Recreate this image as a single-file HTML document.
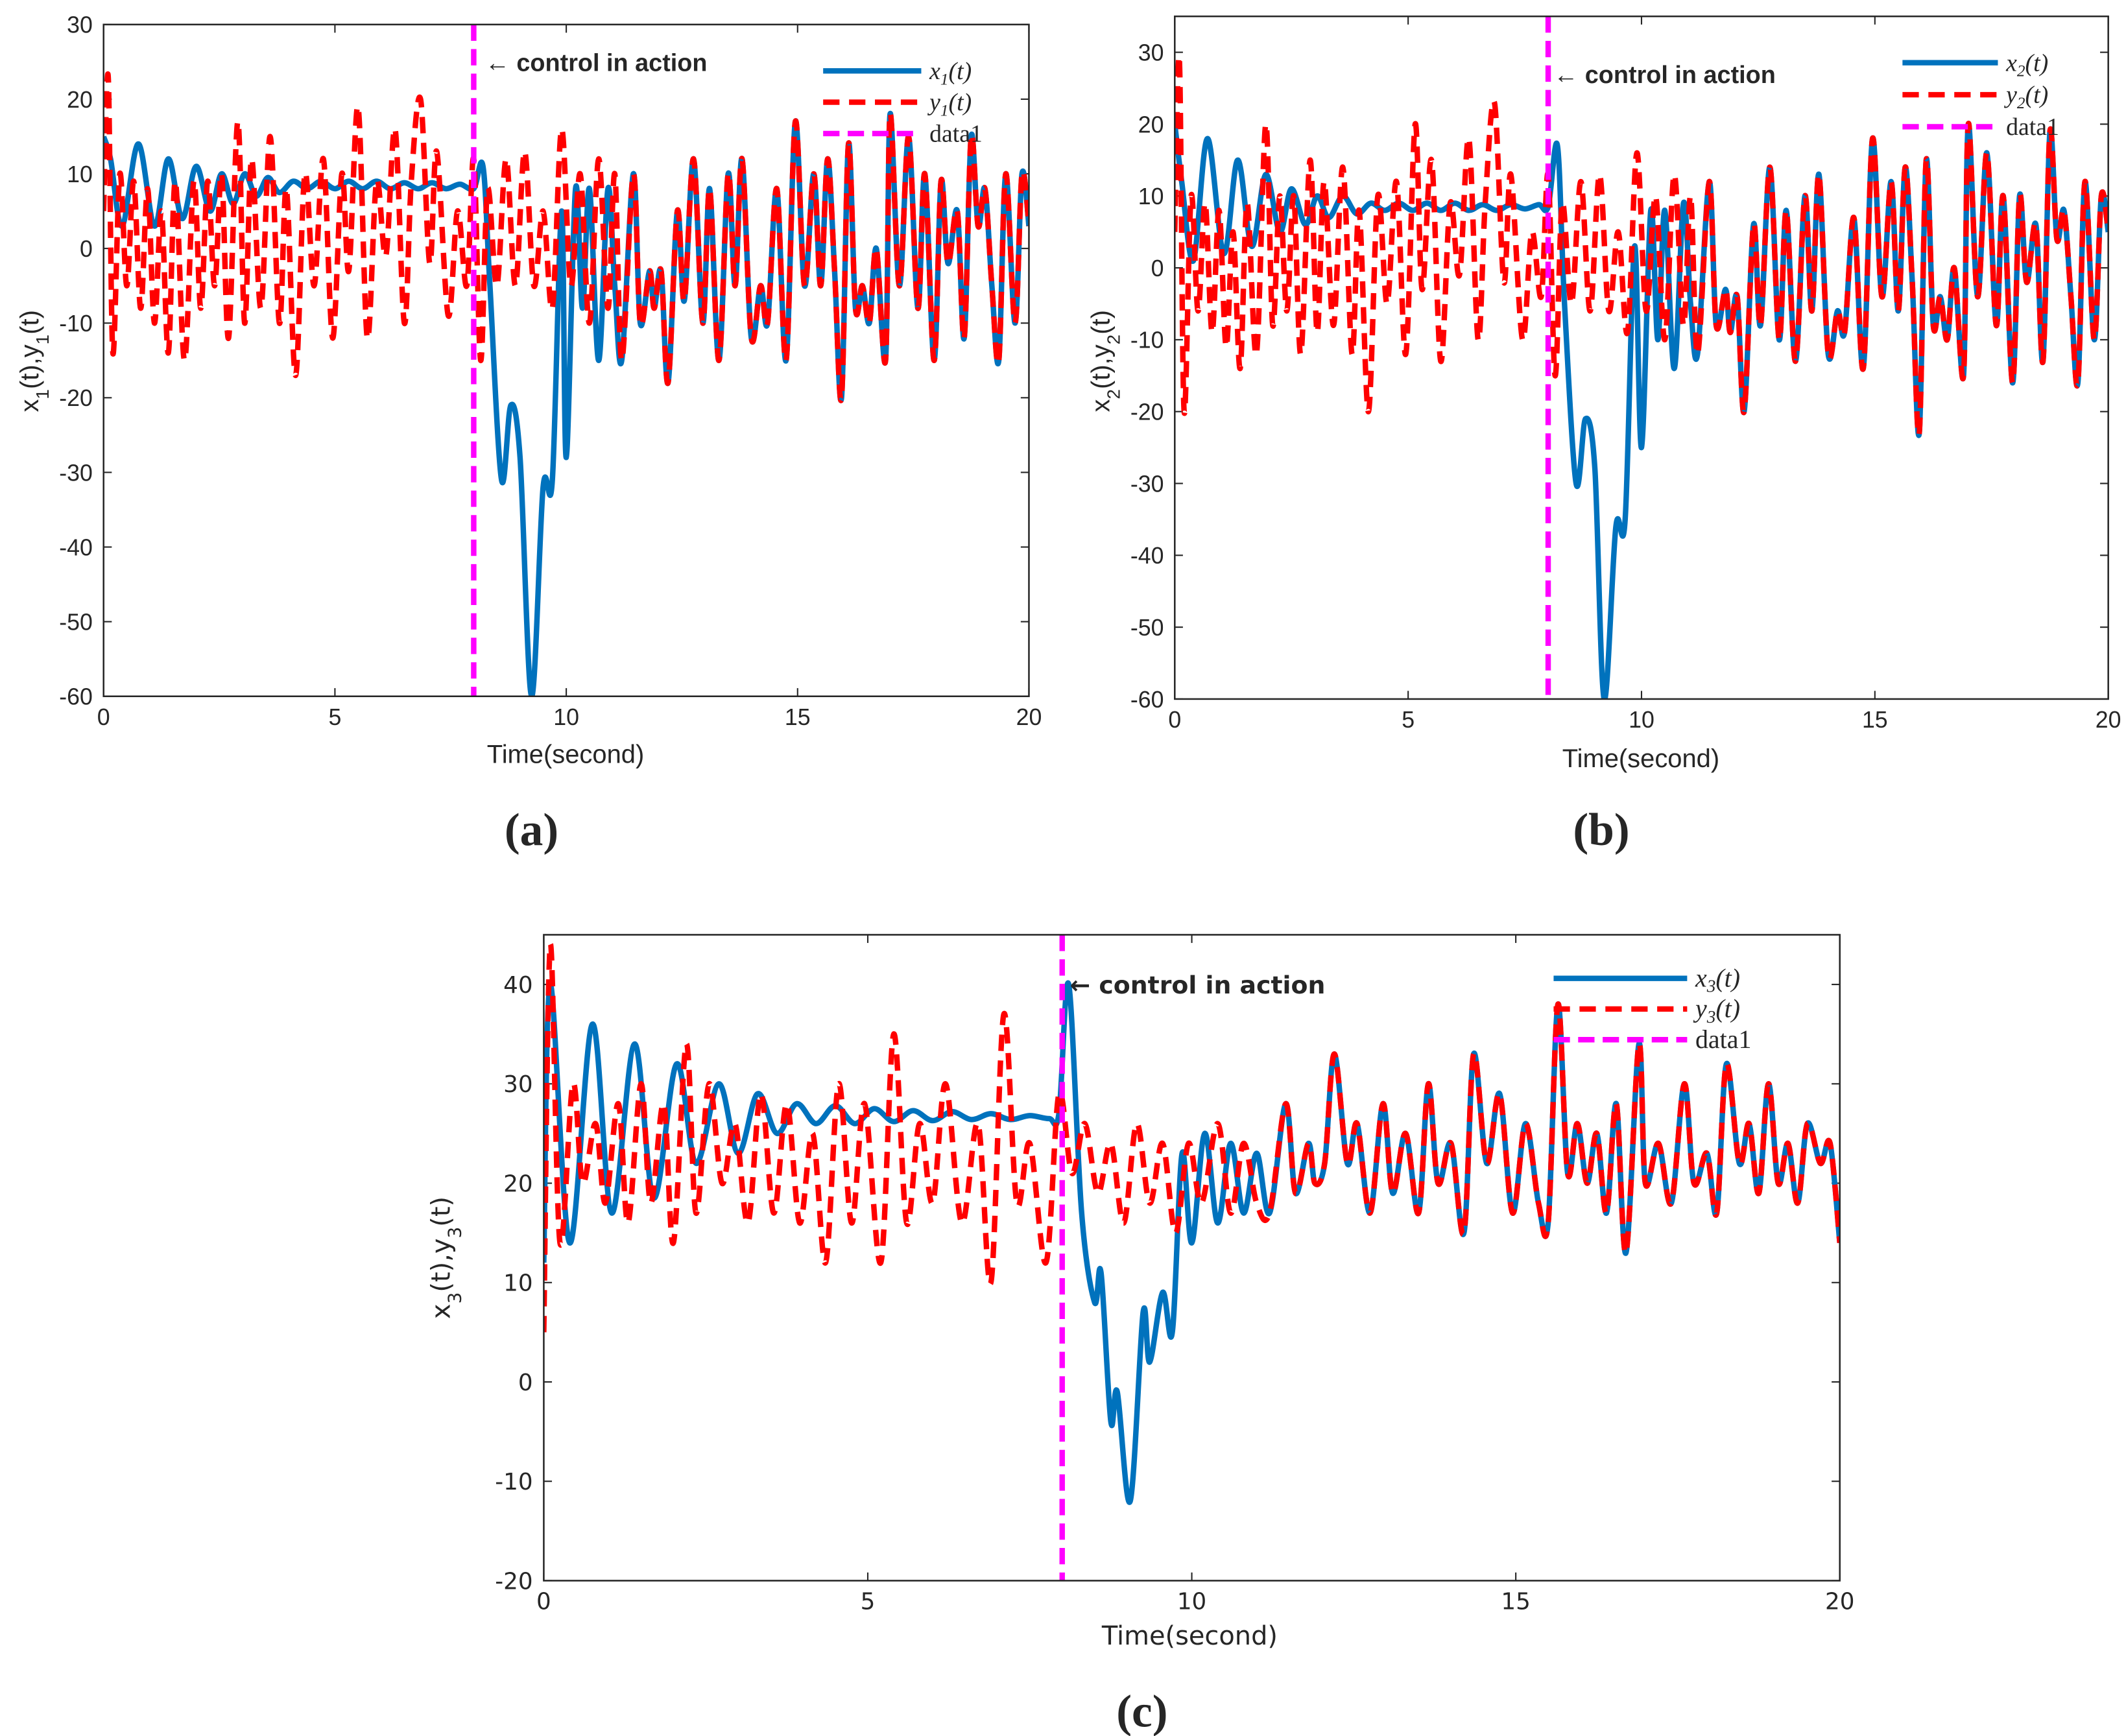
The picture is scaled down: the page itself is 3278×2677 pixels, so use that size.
<!DOCTYPE html>
<html><head><meta charset="utf-8"><style>
html,body{margin:0;padding:0;background:#fff}
svg{display:block}
text{font-family:"Liberation Sans",sans-serif;fill:#262626}
</style></head><body>
<svg id="fig" width="3278" height="2677" viewBox="0 0 1560 1274" xmlns="http://www.w3.org/2000/svg"></svg>
<script>
// ---- data: panel a ----
const xTicks=[0,5,10,15,20];
const aYTicks=[-60,-50,-40,-30,-20,-10,0,10,20,30];
const bYTicks=[-60,-50,-40,-30,-20,-10,0,10,20,30];
const cYTicks=[-20,-10,0,10,20,30,40];
const syncT=[11.2,11.45,11.6,11.8,11.9,12.05,12.2,12.4,12.55,12.75,12.95,13.1,13.3,13.5,13.65,13.8,14.0,14.2,14.35,14.55,14.75,14.95,15.15,15.35,15.5,15.65,15.8,15.95,16.1,16.25,16.4,16.55,16.7,16.9,17.0,17.2,17.4,17.6,17.75,17.95,18.1,18.25,18.45,18.6,18.75,18.9,19.05,19.2,19.35,19.5,19.7,19.85,20];
const syncA=[-15,10,-10,-3,-8,-3,-18,5,-7,12,-10,8,-15,10,-5,12,-12,-5,-10,8,-15,17,-5,10,-5,12,-3,-20,14,-8,-5,-10,0,-15,18,-5,15,-8,10,-15,9,-2,5,-12,15,3,8,-5,-15,10,-10,10,3];
const syncB=[-12,12,-8,-3,-9,-4,-20,6,-8,14,-10,8,-13,10,-6,13,-12,-6,-9,7,-14,18,-4,12,-6,14,-2,-23,15,-8,-4,-10,0,-15,20,-4,16,-8,10,-16,10,-2,6,-13,19,4,8,-4,-16,12,-10,10,5];
const syncC=[17,28,19,24,20,22,33,22,26,17,28,19,25,17,30,20,24,15,33,22,29,17,26,18,16,38,21,26,20,25,17,28,13,34,20,24,18,30,20,23,17,32,22,26,19,30,20,24,18,26,22,24,14];
const aXT=[0,0.15,0.4,0.75,1.1,1.4,1.7,2.0,2.3,2.55,2.8,3.05,3.3,3.55,3.8,4.1,4.4,4.7,5.0,5.3,5.6,5.9,6.2,6.5,6.8,7.1,7.4,7.7,8.0,8.2,8.35,8.6,8.8,9.0,9.25,9.5,9.7,9.9,10.0,10.2,10.35,10.5,10.7,10.9,11.05];
const aXV=[15,12,3,14,3,12,4,11,5,10,6,10,7,9.5,7.5,9,8,9,8,9,8,9,8,8.8,8,8.8,8,8.6,8,11,-5,-31,-21,-28,-60,-32,-31,5,-28,8,-8,8,-15,8,-5];
const aYT=[0,0.1,0.2,0.35,0.5,0.65,0.8,0.95,1.1,1.25,1.4,1.55,1.75,1.95,2.1,2.25,2.4,2.55,2.7,2.9,3.05,3.2,3.4,3.6,3.8,3.95,4.15,4.35,4.55,4.75,4.95,5.15,5.3,5.5,5.7,5.9,6.1,6.3,6.5,6.65,6.85,7.05,7.2,7.45,7.65,7.85,8.0,8.15,8.3,8.5,8.7,8.9,9.1,9.3,9.5,9.7,9.9,10.1,10.3,10.5,10.7,10.9,11.05];
const aYV=[5,23,-14,10,-5,9,-8,8,-10,5,-14,9,-15,9,-8,9,-5,10,-12,17,-10,12,-8,15,-10,8,-17,10,-5,12,-12,10,-3,19,-12,9,-1,16,-10,9,20,-2,13,-9,5,-5,12,-15,8,-5,12,-5,13,-5,5,-8,16,-5,10,-10,12,-8,10];
// ---- data: panel b ----
const bXT=[0,0.15,0.4,0.7,1.05,1.35,1.65,1.95,2.25,2.5,2.8,3.05,3.3,3.6,3.9,4.2,4.5,4.8,5.1,5.4,5.7,6.0,6.3,6.6,6.9,7.2,7.5,7.8,8.0,8.2,8.35,8.6,8.8,9.0,9.2,9.45,9.65,9.85,10.0,10.2,10.35,10.5,10.7,10.9,11.05];
const bXV=[20,12,1,18,2,15,3,13,5,11,6,10,7,10,7.5,9,8,9,8,9,8,9,8,8.8,8,8.8,8.2,8.8,8.5,17,-5,-30,-21,-28,-60,-36,-35,3,-25,8,-10,8,-14,9,-5];
const bYT=[0,0.1,0.2,0.35,0.5,0.65,0.8,0.95,1.1,1.25,1.4,1.55,1.75,1.95,2.1,2.25,2.4,2.55,2.7,2.9,3.05,3.2,3.4,3.6,3.8,3.95,4.15,4.35,4.55,4.75,4.95,5.15,5.3,5.5,5.7,5.9,6.1,6.3,6.5,6.65,6.85,7.05,7.2,7.45,7.65,7.85,8.0,8.15,8.3,8.5,8.7,8.9,9.1,9.3,9.5,9.7,9.9,10.1,10.3,10.5,10.7,10.9,11.05];
const bYV=[5,29,-20,10,-6,9,-9,8,-11,5,-14,9,-12,20,-8,10,-6,10,-12,15,-9,12,-8,14,-12,8,-20,10,-5,12,-12,20,-3,15,-13,9,-1,18,-10,9,23,-2,13,-10,5,-4,13,-15,9,-5,12,-6,13,-6,5,-9,16,-6,10,-10,13,-8,10];
// ---- data: panel c ----
const cXT=[0,0.1,0.4,0.75,1.05,1.4,1.7,2.05,2.35,2.7,3.0,3.3,3.6,3.9,4.2,4.5,4.8,5.1,5.4,5.7,6.0,6.3,6.6,6.9,7.2,7.5,7.8,7.95,8.1,8.3,8.5,8.6,8.75,8.85,9.05,9.25,9.35,9.55,9.7,9.85,10.0,10.2,10.4,10.6,10.8,11.0];
const cXV=[12,40,14,36,17,34,18.5,32,22,30,23,29,25,28,26,27.8,26,27.5,26.2,27.3,26.3,27.2,26.4,27,26.4,26.8,26.5,27,40,17,8,11,-4,-1,-12,7,2,9,5,23,14,25,16,24,17,23];
const cYT=[0,0.1,0.25,0.45,0.6,0.8,0.95,1.15,1.3,1.5,1.65,1.85,2.0,2.2,2.35,2.55,2.75,2.95,3.15,3.35,3.55,3.75,3.95,4.15,4.35,4.55,4.75,4.95,5.2,5.4,5.6,5.8,6.0,6.2,6.45,6.7,6.9,7.1,7.3,7.5,7.75,7.95,8.15,8.35,8.55,8.75,8.95,9.15,9.35,9.55,9.75,9.95,10.15,10.4,10.6,10.8,11.0];
const cYV=[5,44,14,30,20,26,18,28,16,30,18,28,14,34,17,30,20,26,16,29,17,28,16,25,12,30,16,28,12,35,16,26,18,30,16,26,10,37,18,24,12,29,21,26,19,24,16,26,18,24,15,24,18,26,17,24,18];

const svg=document.getElementById('fig');
const NS='http://www.w3.org/2000/svg';
function el(tag,attrs,parent,text){const e=document.createElementNS(NS,tag);for(const k in attrs)e.setAttribute(k,attrs[k]);if(text!==undefined)e.textContent=text;(parent||svg).appendChild(e);return e;}
function smooth(pts){let d='M'+pts[0][0].toFixed(1)+','+pts[0][1].toFixed(1);for(let i=0;i<pts.length-1;i++){const p0=pts[Math.max(0,i-1)],p1=pts[i],p2=pts[i+1],p3=pts[Math.min(pts.length-1,i+2)];const c1=[p1[0]+(p2[0]-p0[0])/6,p1[1]+(p2[1]-p0[1])/6],c2=[p2[0]-(p3[0]-p1[0])/6,p2[1]-(p3[1]-p1[1])/6];d+='C'+c1[0].toFixed(1)+','+c1[1].toFixed(1)+' '+c2[0].toFixed(1)+','+c2[1].toFixed(1)+' '+p2[0].toFixed(1)+','+p2[1].toFixed(1);}return d;}

function panel(cfg){
  const g=el('g',{});
  
  
  const X=t=>cfg.x0+(t-0)/20*(cfg.x1-cfg.x0);
  const Y=v=>cfg.y1-(v-cfg.ymin)/(cfg.ymax-cfg.ymin)*(cfg.y1-cfg.y0);
  const cid='clip-'+cfg.name;
  const cp=el('clipPath',{id:cid},g);el('rect',{x:cfg.x0,y:cfg.y0,width:cfg.x1-cfg.x0,height:cfg.y1-cfg.y0},cp);
  const fs=cfg.fs, ff=cfg.font;
  xTicks.forEach(t=>{
    const tk=el('line',{x1:X(t),x2:X(t),y1:cfg.y1,y2:cfg.y1-6,stroke:'#262626','stroke-width':1},g);
    
    el('line',{x1:X(t),x2:X(t),y1:cfg.y0,y2:cfg.y0+6,stroke:'#262626','stroke-width':1},g);
    const tl=el('text',{x:X(t),y:cfg.y1+fs+4,'text-anchor':'middle','font-size':fs,style:'font-family:'+ff},g,String(t));
    
  });
  cfg.yt.forEach(v=>{
    el('line',{x1:cfg.x0,x2:cfg.x0+6,y1:Y(v),y2:Y(v),stroke:'#262626','stroke-width':1},g);
    el('line',{x1:cfg.x1,x2:cfg.x1-6,y1:Y(v),y2:Y(v),stroke:'#262626','stroke-width':1},g);
    const tl=el('text',{x:cfg.x0-8,y:Y(v)+fs*0.36,'text-anchor':'end','font-size':fs,style:'font-family:'+ff},g,String(v));
    
  });
  const cl=el('g',{'clip-path':'url(#'+cid+')'},g);
  const yp=cfg.yT.map((t,i)=>[X(t),Y(cfg.yV[i])]).concat(syncT.map((t,i)=>[X(t),Y(cfg.sync[i])]));
  const xp=cfg.xT.map((t,i)=>[X(t),Y(cfg.xV[i])]).concat(syncT.map((t,i)=>[X(t),Y(cfg.sync[i])]));
  const xl=el('path',{d:smooth(xp),fill:'none',stroke:'#0072BD','stroke-width':4,'stroke-linejoin':'round'},cl);
  
  const yl=el('path',{d:smooth(yp),fill:'none',stroke:'#FF0000','stroke-width':4,'stroke-dasharray':'12,7'},cl);
  
  const vl=el('line',{x1:X(8),x2:X(8),y1:cfg.y0,y2:cfg.y1,stroke:'#FF00FF','stroke-width':4,'stroke-dasharray':'12,6'},g);
  
  const box=el('rect',{x:cfg.x0,y:cfg.y0,width:cfg.x1-cfg.x0,height:cfg.y1-cfg.y0,fill:'none',stroke:'#262626','stroke-width':1.2},g);
  
  const an=el('text',{x:cfg.ann[0],y:cfg.ann[1],'font-size':cfg.annFs,'font-weight':'bold',style:'font-family:'+ff,fill:'#000'},g,'\u2190 control in action');
  
  const L=cfg.leg, cols=['#0072BD','#FF0000','#FF00FF'], dash=['none','12,7','12,6'];
  cfg.legLabels.forEach((lab,i)=>{
    const y=L.y+i*L.dy;
    const ll=el('line',{x1:L.x,x2:L.x+L.w,y1:y,y2:y,stroke:cols[i],'stroke-width':4,'stroke-dasharray':dash[i]},g);
    
    const t=el('text',{x:L.x+L.w+6,y:y+6,'font-size':L.fs,'font-style':i<2?'italic':'normal',style:'font-family:"Liberation Serif",serif',fill:'#000'},g);
    
    t.innerHTML=lab;
  });
  const xa=el('text',{x:cfg.xl[0],y:cfg.xl[1],'text-anchor':'middle','font-size':cfg.labFs,style:'font-family:'+ff},g,'Time(second)');
  
  const ya=el('text',{x:0,y:0,'text-anchor':'middle','font-size':cfg.labFs,transform:'translate('+cfg.yl[0]+','+cfg.yl[1]+') rotate(-90)',style:'font-family:'+ff},g);
  
  ya.innerHTML='x<tspan baseline-shift="sub" font-size="'+(cfg.labFs*0.7)+'">'+cfg.k+'</tspan>(t),y<tspan baseline-shift="sub" font-size="'+(cfg.labFs*0.7)+'">'+cfg.k+'</tspan>(t)';
  const pl=el('text',{x:cfg.pl[0],y:cfg.pl[1],'text-anchor':'middle','font-size':34,'font-weight':'bold',style:'font-family:"Liberation Serif",serif',fill:'#000'},g,cfg.plabel);
  
}
const sans='"Liberation Sans",sans-serif', dv='"DejaVu Sans",sans-serif';
panel({name:'panel-a',x0:76,x1:755,y0:18,y1:511,ymin:-60,ymax:30,yt:aYTicks,xT:aXT,xV:aXV,yT:aYT,yV:aYV,sync:syncA,fs:17,font:sans,
  ann:[356,52],annFs:18,leg:{x:604,y:52,dy:23,w:72,fs:18},legLabels:['x<tspan font-size="12" dy="4">1</tspan><tspan dy="-4">(t)</tspan>','y<tspan font-size="12" dy="4">1</tspan><tspan dy="-4">(t)</tspan>','data1'],
  xl:[415,560],yl:[28,265],labFs:19,k:'1',pl:[390,620],plabel:'(a)'});
panel({name:'panel-b',x0:862,x1:1547,y0:12,y1:513,ymin:-60,ymax:35,yt:bYTicks,xT:bXT,xV:bXV,yT:bYT,yV:bYV,sync:syncB,fs:17,font:sans,
  ann:[1140,61],annFs:18,leg:{x:1396,y:46,dy:23.5,w:70,fs:18},legLabels:['x<tspan font-size="12" dy="4">2</tspan><tspan dy="-4">(t)</tspan>','y<tspan font-size="12" dy="4">2</tspan><tspan dy="-4">(t)</tspan>','data1'],
  xl:[1204,563],yl:[814,265],labFs:19,k:'2',pl:[1175,620],plabel:'(b)'});
panel({name:'panel-c',x0:399,x1:1350,y0:686,y1:1160,ymin:-20,ymax:45,yt:cYTicks,xT:cXT,xV:cXV,yT:cYT,yV:cYV,sync:syncC,fs:17,font:dv,
  ann:[785,729],annFs:18,leg:{x:1140,y:718,dy:22.5,w:98,fs:19},legLabels:['x<tspan font-size="13" dy="4">3</tspan><tspan dy="-4">(t)</tspan>','y<tspan font-size="13" dy="4">3</tspan><tspan dy="-4">(t)</tspan>','data1'],
  xl:[873,1207],yl:[330,923],labFs:19,k:'3',pl:[838,1267],plabel:'(c)'});
</script>
</body></html>
